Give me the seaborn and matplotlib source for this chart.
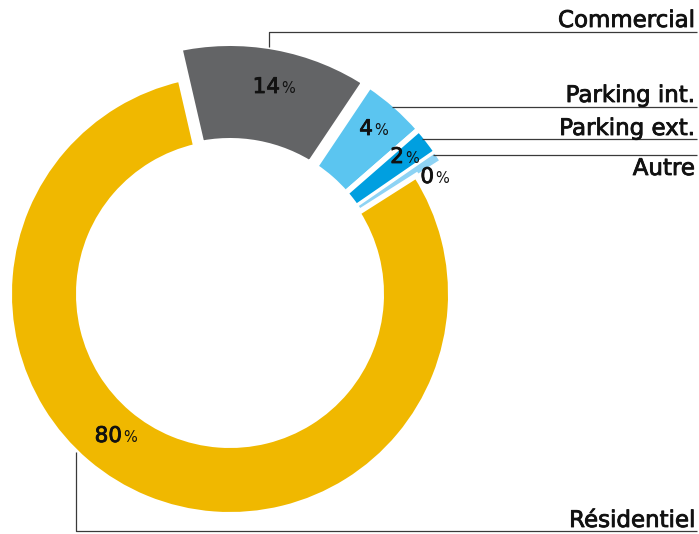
import matplotlib.pyplot as plt
import matplotlib.patheffects as pe
import seaborn as sns

sns.set_style("white")
plt.rcParams['font.family'] = ['DejaVu Sans']

# data (drawn clockwise from the top)
categories = ['Commercial', 'Parking int.', 'Parking ext.', 'Autre', 'Résidentiel']
shares = [13.0, 4.2, 1.8, 0.6, 80.4]
pct_labels = ['14', '4', '2', '0', '80']
colors = ['#636466', '#5BC5F0', '#009FE0', '#8ED3F4', '#F0B800']

W, H = 699, 534
fig = plt.figure(figsize=(W / 100, H / 100), dpi=100)
ax = fig.add_axes([0, 0, 1, 1])

cx, cy = 230, H - 294
wedges, _ = ax.pie(shares, colors=colors, startangle=103, counterclock=False,
                   center=(cx, cy), radius=218, frame=True,
                   wedgeprops=dict(width=64, edgecolor='white', linewidth=4))
ax.set_xlim(0, W)
ax.set_ylim(0, H)
ax.set_aspect('equal')
ax.axis('off')

# edge half-widths in px (linewidth pt * 100/72 / 2)
def half(lw):
    return lw * 100 / 72 / 2

# yellow ring is smaller, other slices stick out
for i, w in enumerate(wedges):
    lw = 4
    if categories[i] == 'Commercial':
        lw = 13
    elif categories[i] == 'Autre':
        lw = 1
    w.set_linewidth(lw)
    h = half(lw)
    if categories[i] == 'Résidentiel':
        r_out, r_in = 218, 154
    else:
        r_out, r_in = 248, 156
    w.set_radius(r_out + h)
    w.set_width(r_out - r_in + 2 * h)

# slightly heavier text, like the medium weight of the original
heavy = [pe.withStroke(linewidth=0.6, foreground='#111111')]

# percent labels: number right edge x, baseline y (px, top origin)
pct_pos = [(280, 93), (373, 135), (404, 163), (434, 183), (122, 442)]
for lab, (x, y) in zip(pct_labels, pct_pos):
    ax.text(x, H - y, lab, ha='right', va='baseline', fontsize=15.5,
            color='#111111', path_effects=heavy)
    ax.text(x + 1, H - y, '%', ha='left', va='baseline', fontsize=10.5,
            color='#111111')

# leader lines and category names
line_kw = dict(color='#3a3a3a', lw=0.9, solid_capstyle='butt')
ax.plot([269, 269, 697], [H - 47, H - 32, H - 32], **line_kw)
ax.plot([392, 697], [H - 107, H - 107], **line_kw)
ax.plot([422, 697], [H - 139, H - 139], **line_kw)
ax.plot([433, 697], [H - 155, H - 155], **line_kw)
ax.plot([76, 76, 697], [H - 452, H - 531, H - 531], **line_kw)

name_pos = {'Commercial': 27, 'Parking int.': 102, 'Parking ext.': 135,
            'Autre': 175, 'Résidentiel': 527}
for name in categories:
    ax.text(695, H - name_pos[name], name, ha='right', va='baseline',
            fontsize=16.5, color='#111111', path_effects=heavy)

fig.savefig('out.png', dpi=100)
